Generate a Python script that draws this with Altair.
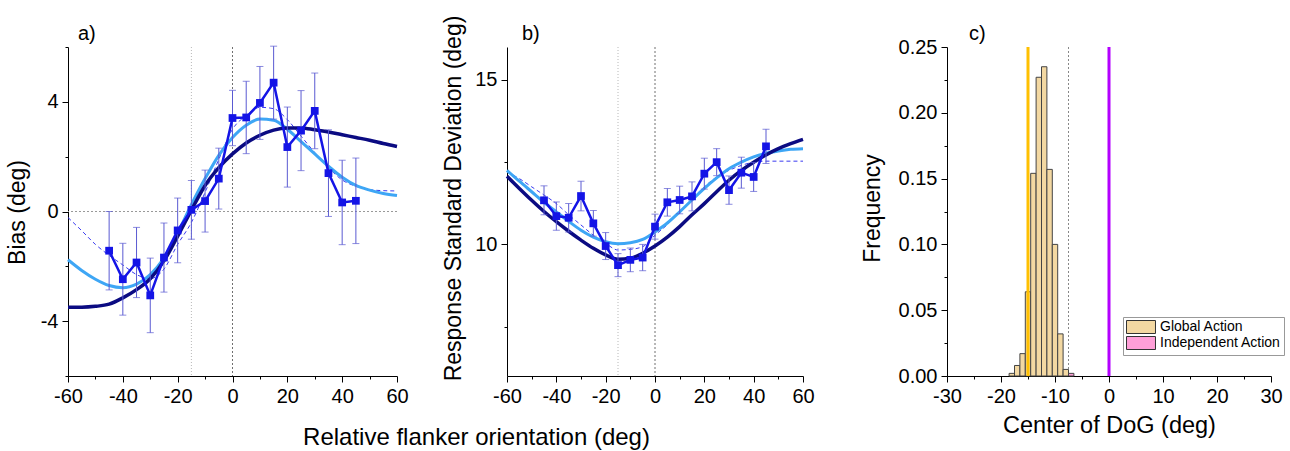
import altair as alt
import pandas as pd

FONT = "Liberation Sans"

# ---------------- data ----------------
x_pts = [-45, -40, -35, -30, -25, -20, -15, -10, -5, 0, 5, 10, 15, 20, 25, 30, 35, 40, 45]
bias_mean = [-1.43, -2.47, -1.86, -3.06, -1.68, -0.69, 0.06, 0.38, 1.20, 3.41, 3.43, 3.96, 4.70,
             2.35, 2.95, 3.67, 1.40, 0.33, 0.39]
bias_err = [1.43, 1.31, 1.28, 1.36, 1.26, 1.18, 1.07, 1.13, 1.11, 1.01, 1.32, 1.33, 1.33,
            1.46, 1.46, 1.38, 1.58, 1.54, 1.56]
sd_mean = [11.34, 10.86, 10.81, 11.47, 10.64, 9.95, 9.37, 9.53, 9.60, 10.54, 11.28, 11.35, 11.46,
           12.15, 12.50, 11.65, 12.18, 12.05, 12.98]
sd_err = [0.44, 0.43, 0.43, 0.45, 0.39, 0.41, 0.35, 0.36, 0.40, 0.38, 0.42, 0.42, 0.44,
          0.47, 0.41, 0.43, 0.47, 0.44, 0.52]

curve_x = [-60, -55, -50, -45, -40, -35, -30, -25, -20, -15, -10, -5, 0,
           5, 10, 15, 20, 25, 30, 35, 40, 45, 50, 55, 60]
bias_global = [-3.49, -3.49, -3.46, -3.38, -3.15, -2.85, -2.45, -1.80, -0.90, 0.05, 0.95, 1.60, 2.10,
               2.50, 2.78, 2.97, 3.05, 3.05, 2.98, 2.90, 2.80, 2.70, 2.60, 2.48, 2.37]
bias_light = [-1.76, -2.15, -2.47, -2.70, -2.78, -2.65, -2.30, -1.70, -0.78, 0.25, 1.20, 2.05, 2.70,
              3.15, 3.37, 3.33, 3.00, 2.55, 2.10, 1.65, 1.25, 0.95, 0.78, 0.66, 0.58]
bias_dashed = [-0.22, -0.70, -1.20, -1.60, -1.95, -2.30, -2.45, -2.10, -1.20, -0.40, 0.70, 1.90, 3.00,
               3.50, 3.80, 3.75, 3.35, 2.75, 2.15, 1.60, 1.15, 0.92, 0.80, 0.76, 0.75]
sd_global = [12.07, 11.70, 11.34, 11.00, 10.69, 10.40, 10.13, 9.88, 9.68, 9.55, 9.58, 9.73, 9.95,
             10.22, 10.54, 10.90, 11.24, 11.60, 11.95, 12.25, 12.50, 12.72, 12.91, 13.06, 13.19]
sd_light = [12.25, 11.92, 11.60, 11.28, 10.99, 10.70, 10.43, 10.22, 10.08, 10.02, 10.05, 10.15, 10.38,
            10.65, 10.99, 11.35, 11.70, 12.02, 12.30, 12.50, 12.66, 12.77, 12.84, 12.89, 12.91]
sd_dashed = [12.20, 12.00, 11.75, 11.50, 11.24, 10.90, 10.59, 10.28, 10.03, 9.83, 9.85, 9.93, 10.28,
             10.60, 10.99, 11.38, 11.75, 12.05, 12.25, 12.40, 12.50, 12.53, 12.53, 12.53, 12.53]

hist_centers = [-18, -17, -16, -15, -14, -13, -12, -11, -10, -9, -8, -7]
hist_freq = [0.002, 0.008, 0.017, 0.064, 0.154, 0.227, 0.235, 0.157, 0.100, 0.032, 0.005, 0.002]
hist_group = ["Global Action"] * 11 + ["Independent Action"]
groups = ["Global Action", "Independent Action"]
group_colors = ["#f3d8a2", "#ff9fd8"]

ref_light_x = [-15]
ref_dark_x = [0]
ref_zero_y = [0]
c_dotted_x = [-7.5]
c_global_x = [-15]
c_indep_x = [0]

x_ticks_ab = [-60, -50, -40, -30, -20, -10, 0, 10, 20, 30, 40, 50, 60]
y_ticks_a = [-6, -4, -2, 0, 2, 4, 6]
y_ticks_b = [7.5, 10, 12.5, 15]
x_ticks_c = [-30, -25, -20, -15, -10, -5, 0, 5, 10, 15, 20, 25, 30]
y_ticks_c = [0, 0.025, 0.05, 0.075, 0.1, 0.125, 0.15, 0.175, 0.2, 0.225, 0.25]

# ---------------- colours ----------------
NAVY = "#0b0b82"
LIGHT = "#3ea6f5"
DATA = "#1414e6"
ERR = "#5a5ad2"
DASH = "#3a3af0"

pts_a = pd.DataFrame({"x": x_pts, "m": bias_mean, "e": bias_err})
pts_a["lo"] = pts_a["m"] - pts_a["e"]
pts_a["hi"] = pts_a["m"] + pts_a["e"]
pts_b = pd.DataFrame({"x": x_pts, "m": sd_mean, "e": sd_err})
pts_b["lo"] = pts_b["m"] - pts_b["e"]
pts_b["hi"] = pts_b["m"] + pts_b["e"]
cur_a = pd.DataFrame({"x": curve_x, "g": bias_global, "l": bias_light, "d": bias_dashed})
cur_b = pd.DataFrame({"x": curve_x, "g": sd_global, "l": sd_light, "d": sd_dashed})
hist = pd.DataFrame({"c": hist_centers, "f": hist_freq, "grp": hist_group})
hist["lo"] = hist["c"] - 0.5
hist["hi"] = hist["c"] + 0.5


def tick_cond(test, big=6, small=3):
    return {"condition": {"test": test, "value": big}, "value": small}


def mk_axis(values, test, label_expr, **kw):
    base = dict(values=values, tickSize=tick_cond(test), labelExpr=label_expr,
                labelFont=FONT, labelFontSize=20, labelColor="black",
                domainColor="black", tickColor="black", grid=False,
                labelFlush=False, labelOverlap=False, labelPadding=4,
                titleFont=FONT, titleFontSize=23, titleFontWeight="normal",
                titleColor="black", titleBaseline="alphabetic")
    base.update(kw)
    return alt.Axis(**base)


def panel_label(txt, dx):
    return alt.Chart(pd.DataFrame({"t": [txt]})).mark_text(
        align="left", baseline="alphabetic", font=FONT, fontSize=20, color="black"
    ).encode(x=alt.value(dx), y=alt.value(-7), text="t:N")


def line_panel(pts, cur, xscale, yscale, xaxis, yaxis, width, label, label_dx, hline):
    X = lambda f: alt.X(f, type="quantitative", scale=xscale, axis=xaxis)
    Y = lambda f: alt.Y(f, type="quantitative", scale=yscale, axis=yaxis)
    layers = []
    layers.append(alt.Chart(pd.DataFrame({"x": ref_light_x})).mark_rule(
        color="#b8b8b8", strokeWidth=1, strokeDash=[1, 2]).encode(x=X("x")))
    layers.append(alt.Chart(pd.DataFrame({"x": ref_dark_x})).mark_rule(
        color="#707070", strokeWidth=1, strokeDash=[2, 2]).encode(x=X("x")))
    if hline:
        layers.append(alt.Chart(pd.DataFrame({"y": ref_zero_y})).mark_rule(
            color="#999999", strokeWidth=1, strokeDash=[2, 2]).encode(y=Y("y")))
    layers.append(alt.Chart(cur).mark_line(color=DASH, strokeWidth=1, strokeDash=[4, 3],
                                           interpolate="monotone").encode(x=X("x"), y=Y("d")))
    layers.append(alt.Chart(cur).mark_line(color=LIGHT, strokeWidth=3,
                                           interpolate="monotone").encode(x=X("x"), y=Y("l")))
    layers.append(alt.Chart(cur).mark_line(color=NAVY, strokeWidth=3.5,
                                           interpolate="monotone").encode(x=X("x"), y=Y("g")))
    layers.append(alt.Chart(pts).mark_rule(color=ERR, strokeWidth=1).encode(
        x=X("x"), y=Y("lo"), y2="hi"))
    layers.append(alt.Chart(pts).mark_tick(color=ERR, orient="horizontal", size=7,
                                           thickness=1).encode(x=X("x"), y=Y("lo")))
    layers.append(alt.Chart(pts).mark_tick(color=ERR, orient="horizontal", size=7,
                                           thickness=1).encode(x=X("x"), y=Y("hi")))
    layers.append(alt.Chart(pts).mark_line(color=DATA, strokeWidth=2.5).encode(
        x=X("x"), y=Y("m")))
    layers.append(alt.Chart(pts).mark_point(shape="square", filled=True, size=60,
                                            color=DATA, opacity=1).encode(x=X("x"), y=Y("m")))
    layers.append(panel_label(label, label_dx))
    return alt.layer(*layers).properties(width=width, height=329)


INT_LABEL = "'' + datum.value"

# ---------------- panel a ----------------
xs_a = alt.Scale(domain=[-60, 60], nice=False, zero=False)
ys_a = alt.Scale(domain=[-6, 6], nice=False, zero=False)
xax_a = mk_axis(x_ticks_ab, "datum.value % 20 === 0",
                "datum.value % 20 === 0 ? " + INT_LABEL + " : ''",
                title="Relative flanker orientation (deg)", titleX=408, titleY=68,
                titleAlign="center", titleAngle=0, titleFontSize=24)
yax_a = mk_axis(y_ticks_a, "datum.value % 4 === 0 && abs(datum.value) < 6",
                "datum.value % 4 === 0 && abs(datum.value) < 6 ? " + INT_LABEL + " : ''",
                title="Bias (deg)", titleX=-44, titleY=165, titleAngle=-90, titleAlign="center")
panel_a = line_panel(pts_a, cur_a, xs_a, ys_a, xax_a, yax_a, 329, "a)", 10, True)

# ---------------- panel b ----------------
xs_b = alt.Scale(domain=[-60, 60], nice=False, zero=False, range=[0, 296])
ys_b = alt.Scale(domain=[6, 16], nice=False, zero=False)
xax_b = mk_axis(x_ticks_ab, "datum.value % 20 === 0",
                "datum.value % 20 === 0 ? " + INT_LABEL + " : ''", title=None)
yax_b = mk_axis(y_ticks_b, "datum.value % 5 === 0",
                "datum.value % 5 === 0 ? " + INT_LABEL + " : ''",
                title="Response Standard Deviation (deg)", titleX=-47, titleY=151,
                titleAngle=-90, titleAlign="center")
panel_b = line_panel(pts_b, cur_b, xs_b, ys_b, xax_b, yax_b, 330, "b)", 15, False)

# ---------------- panel c ----------------
xs_c = alt.Scale(domain=[-30, 30], nice=False, zero=False)
ys_c = alt.Scale(domain=[0, 0.25], nice=False)
xax_c = mk_axis(x_ticks_c, "datum.value % 10 === 0",
                "datum.value % 10 === 0 ? " + INT_LABEL + " : ''",
                title="Center of DoG (deg)", titleX=162, titleY=56, titleAlign="center",
                titleAngle=0, titleFontSize=23.5)
ymaj = "abs(round(datum.value * 1000)) % 50 === 0"
yax_c = mk_axis(y_ticks_c, ymaj, ymaj + " ? format(datum.value, '.2f') : ''",
                title="Frequency", titleX=-68, titleY=161, titleAngle=-90, titleAlign="center")

Xc = lambda f: alt.X(f, type="quantitative", scale=xs_c, axis=xax_c)
Yc = lambda f: alt.Y(f, type="quantitative", scale=ys_c, axis=yax_c)

bars = alt.Chart(hist).mark_bar(stroke="#444444", strokeWidth=1, opacity=1).encode(
    x=Xc("lo"), x2="hi", y=Yc("f"), y2=alt.datum(0),
    color=alt.Color("grp:N", scale=alt.Scale(domain=groups, range=group_colors),
                    legend=alt.Legend(orient="none", legendX=1055, legendY=270, title=None,
                                      symbolType="M-1,-1H3.46V1H-1Z", symbolSize=169,
                                      symbolStrokeColor="#333333", symbolStrokeWidth=1,
                                      symbolOpacity=1,
                                      labelFont=FONT, labelFontSize=14, labelColor="black",
                                      strokeColor="#999999", fillColor="white", padding=3,
                                      rowPadding=-6, labelOffset=20)))
dotted_c = alt.Chart(pd.DataFrame({"x": c_dotted_x})).mark_rule(
    color="#888888", strokeWidth=1, strokeDash=[2, 2]).encode(x=Xc("x"))
glob_c = alt.Chart(pd.DataFrame({"x": c_global_x})).mark_rule(
    color="#ffc000", strokeWidth=3).encode(x=Xc("x"))
ind_c = alt.Chart(pd.DataFrame({"x": c_indep_x})).mark_rule(
    color="#b400ff", strokeWidth=3).encode(x=Xc("x"))
panel_c = alt.layer(dotted_c, bars, glob_c, ind_c, panel_label("c)", 22)).properties(
    width=324, height=329)

chart = alt.hconcat(panel_a, panel_b, panel_c, spacing=110, bounds="flush").properties(
    padding={"left": 6, "top": 15, "right": 5, "bottom": 2},
    background="white",
).configure_view(strokeWidth=0)

chart.save("out.html", embed_options={"renderer": "svg", "actions": False})
